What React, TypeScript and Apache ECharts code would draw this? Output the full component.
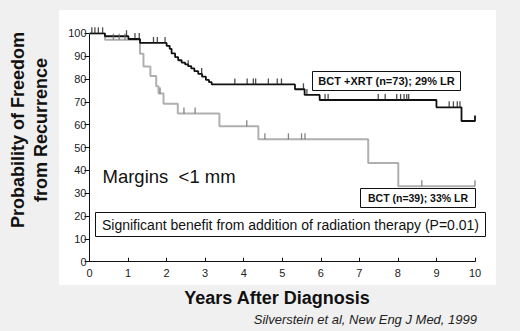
import React, { useEffect, useRef } from "react";
import * as echarts from "echarts";

// Kaplan-Meier step points [years, % free of recurrence]
const xrtCurve: [number, number][] = [
  [0, 100], [0.40, 98.7], [1.01, 97.5], [1.31, 95.8], [2.00, 94.5], [2.08, 93.2],
  [2.13, 91.2], [2.22, 89.6], [2.30, 88.2], [2.39, 87.2], [2.48, 86.4], [2.56, 85.6],
  [2.64, 84.6], [2.72, 83.4], [2.82, 82.2], [2.92, 81.0], [3.02, 79.6], [3.10, 78.6],
  [3.17, 77.6], [5.33, 75.5], [5.58, 73.0], [5.97, 70.8], [9.0, 67.6], [9.65, 61.6], [10, 64]
];
const bctCurve: [number, number][] = [
  [0, 100], [0.40, 97.2], [1.31, 91.0], [1.40, 85.5], [1.58, 81.3], [1.73, 76.8],
  [1.79, 73.6], [1.92, 69.2], [2.29, 64.9], [3.37, 59.3], [4.38, 53.6], [7.23, 43.2],
  [8.01, 33.0], [10, 33.0]
];
// censored observations
const xrtCensored: [number, number][] = [
  [0.06, 100], [0.14, 100], [0.23, 100], [0.34, 100], [0.96, 98.7], [1.18, 97.5], [1.29, 97.5],
  [1.66, 95.8], [1.76, 95.8], [1.96, 95.8], [2.56, 85.6], [2.91, 82.2],
  [3.77, 77.6], [4.09, 77.6], [4.25, 77.6], [4.31, 77.6], [4.64, 77.6], [4.87, 77.6], [4.98, 77.6],
  [5.55, 75.5], [5.64, 73.0], [6.11, 70.8], [6.19, 70.8], [7.49, 70.8], [7.67, 70.8],
  [7.97, 70.8], [8.07, 70.8], [8.16, 70.8], [8.23, 70.8], [8.28, 70.8],
  [9.33, 67.6], [9.44, 67.6], [9.54, 67.6], [9.61, 67.6]
];
const bctCensored: [number, number][] = [
  [0.62, 97.2], [0.77, 97.2], [0.92, 97.2], [1.83, 73.6], [2.45, 64.9], [2.74, 64.9],
  [4.08, 59.3], [4.55, 53.6], [5.16, 53.6], [5.50, 53.6], [5.59, 53.6], [8.62, 33.0], [10.0, 33.0]
];
const yTicks = [0, 10, 20, 30, 40, 50, 60, 70, 80, 90, 100];
const xTicks = [0, 1, 2, 3, 4, 5, 6, 7, 8, 9, 10];

const labels = {
  yTitle1: "Probability of Freedom",
  yTitle2: "from Recurrence",
  xTitle: "Years After Diagnosis",
  source: "Silverstein et al, New Eng J Med, 1999",
  xrt: "BCT +XRT (n=73); 29% LR",
  bct: "BCT (n=39); 33% LR",
  margins: "Margins  <1 mm",
  benefit: "Significant benefit from addition of radiation therapy (P=0.01)"
};

const FONT = "'Liberation Sans', Arial, Helvetica, sans-serif";

export default function App() {
  const ref = useRef<HTMLDivElement>(null);
  useEffect(() => {
    if (!ref.current) return;
    const chart = echarts.init(ref.current, null, { renderer: "svg" });
    chart.setOption({
      animation: false,
      backgroundColor: "#f0f0f0",
      grid: { left: 89.5, top: 33.3, right: 45, bottom: 69.3, containLabel: false },
      xAxis: {
        type: "value", min: xTicks[0], max: xTicks[xTicks.length - 1], interval: 1,
        axisLine: { lineStyle: { color: "#111", width: 1 } },
        axisTick: { show: true, inside: true, length: 4, lineStyle: { color: "#111" } },
        axisLabel: { color: "#222", fontSize: 11, fontFamily: FONT, margin: 6 },
        splitLine: { show: false }
      },
      yAxis: {
        type: "value", min: yTicks[0], max: yTicks[yTicks.length - 1], interval: 10,
        axisLine: { show: true, lineStyle: { color: "#111", width: 1 } },
        axisTick: { show: true, length: 5, lineStyle: { color: "#111" } },
        axisLabel: { color: "#222", fontSize: 11, fontFamily: FONT, margin: 3 },
        splitLine: { show: false }
      },
      series: [
        {
          type: "line", data: bctCurve, step: "end", symbol: "none",
          lineStyle: { color: "#b0b0b0", width: 2 }, z: 3
        },
        {
          type: "line", data: xrtCurve, step: "end", symbol: "none",
          lineStyle: { color: "#111111", width: 1.8 }, z: 4
        },
        {
          type: "scatter", data: bctCensored, symbol: "rect", symbolSize: [1.3, 6],
          symbolOffset: [0, -3], itemStyle: { color: "#666" }, z: 5
        },
        {
          type: "scatter", data: xrtCensored, symbol: "rect", symbolSize: [1.3, 6],
          symbolOffset: [0, -3], itemStyle: { color: "#222" }, z: 6
        }
      ],
      graphic: [
        { type: "rect", z: -100, silent: true, shape: { x: 59, y: 10, width: 437, height: 275 }, style: { fill: "#ffffff" } },
        { type: "text", x: 18, y: 130, rotation: Math.PI / 2, style: { text: labels.yTitle1, font: `bold 18px ${FONT}`, fill: "#111", align: "center", verticalAlign: "middle" } },
        { type: "text", x: 41, y: 130, rotation: Math.PI / 2, style: { text: labels.yTitle2, font: `bold 18px ${FONT}`, fill: "#111", align: "center", verticalAlign: "middle" } },
        { type: "text", x: 277, y: 298, style: { text: labels.xTitle, font: `bold 18px ${FONT}`, fill: "#111", align: "center", verticalAlign: "middle" } },
        { type: "text", x: 477, y: 319, style: { text: labels.source, font: `italic 13px ${FONT}`, fill: "#222", align: "right", verticalAlign: "middle" } },
        { type: "text", x: 102.5, y: 176, style: { text: labels.margins, font: `18.5px ${FONT}`, fill: "#111", align: "left", verticalAlign: "middle" } },
        { type: "rect", z: 100, shape: { x: 312.5, y: 71.5, width: 148, height: 19 }, style: { fill: "#fff", stroke: "#111", lineWidth: 1 } },
        { type: "text", z: 101, x: 386.5, y: 81, style: { text: labels.xrt, font: `bold 11px ${FONT}`, fill: "#111", align: "center", verticalAlign: "middle" } },
        { type: "rect", z: 100, shape: { x: 360.5, y: 188.5, width: 115, height: 19 }, style: { fill: "#fff", stroke: "#111", lineWidth: 1 } },
        { type: "text", z: 101, x: 418, y: 198, style: { text: labels.bct, font: `bold 10.5px ${FONT}`, fill: "#111", align: "center", verticalAlign: "middle" } },
        { type: "rect", z: 100, shape: { x: 95.5, y: 212.5, width: 390, height: 24 }, style: { fill: "#fff", stroke: "#111", lineWidth: 1 } },
        { type: "text", z: 101, x: 290.5, y: 224.5, style: { text: labels.benefit, font: `14px ${FONT}`, fill: "#111", align: "center", verticalAlign: "middle" } }
      ]
    });
    return () => chart.dispose();
  }, []);
  return <div ref={ref} style={{ position: "absolute", left: 0, top: 0, width: 520, height: 331 }} />;
}
